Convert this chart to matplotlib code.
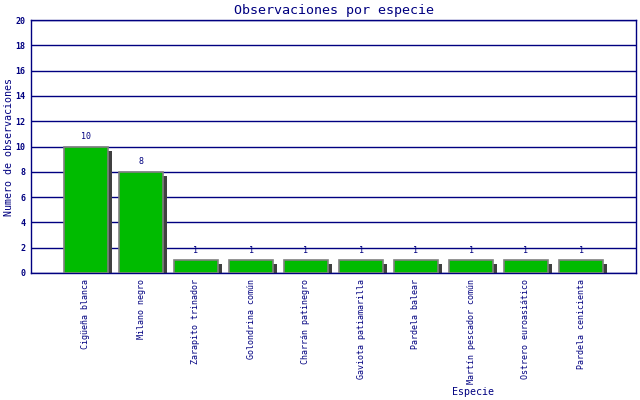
import matplotlib
matplotlib.use("Agg")
from matplotlib import pyplot as plt
import matplotlib.transforms as mtransforms

especies = ["Cigüeña blanca", "Milano negro", "Zarapito trinador",
            "Golondrina común", "Charrán patinegro", "Gaviota patiamarilla",
            "Pardela balear", "Martín pescador común", "Ostrero euroasiático",
            "Pardela cenicienta"]
observaciones = [10, 8, 1, 1, 1, 1, 1, 1, 1, 1]
yticks = [0, 2, 4, 6, 8, 10, 12, 14, 16, 18, 20]

navy = "#000080"
plt.rcParams['font.family'] = ['DejaVu Sans Mono']

fig = plt.figure(figsize=(6.4, 4), dpi=100)
ax = fig.add_axes([31/640, 127/400, 605/640, 253/400])

x = list(range(len(especies)))

# sombra: misma barra desplazada 4px a la derecha y 4px abajo
shadow = mtransforms.offset_copy(ax.transData, fig=fig, x=4, y=-4, units='dots')
ax.bar(x, observaciones, width=0.818, color="#404040", transform=shadow, zorder=2)
ax.bar(x, observaciones, width=0.818, color="#00bb00", edgecolor="#808080",
       linewidth=1.2, zorder=3)

for xi, v in zip(x, observaciones):
    ax.text(xi, v + 0.45, str(v), ha='center', va='bottom', fontsize=6, color=navy)

ax.set_xlim(-1, 10)
ax.set_ylim(0, 20)
ax.set_yticks(yticks)
ax.set_yticklabels([str(t) for t in yticks], fontsize=6, color=navy, fontweight='bold')
ax.set_xticks(x)
ax.set_xticklabels(especies, rotation=90, fontsize=6, color=navy, va='top')
ax.tick_params(length=0, pad=4)
ax.tick_params(axis='x', pad=4)
ax.yaxis.grid(True, color=navy, linewidth=1)
ax.set_axisbelow(True)
for s in ax.spines.values():
    s.set_color(navy)
    s.set_linewidth(1)

ax.set_title("Observaciones por especie", fontsize=9.6, color=navy, pad=4)
ax.set_ylabel("Numero de observaciones", fontsize=7.2, color=navy, labelpad=1)
ax.set_xlabel("Especie", fontsize=7.2, color=navy)
ax.xaxis.set_label_coords(0.73, -0.452)

fig.savefig("out.png", dpi=100)
